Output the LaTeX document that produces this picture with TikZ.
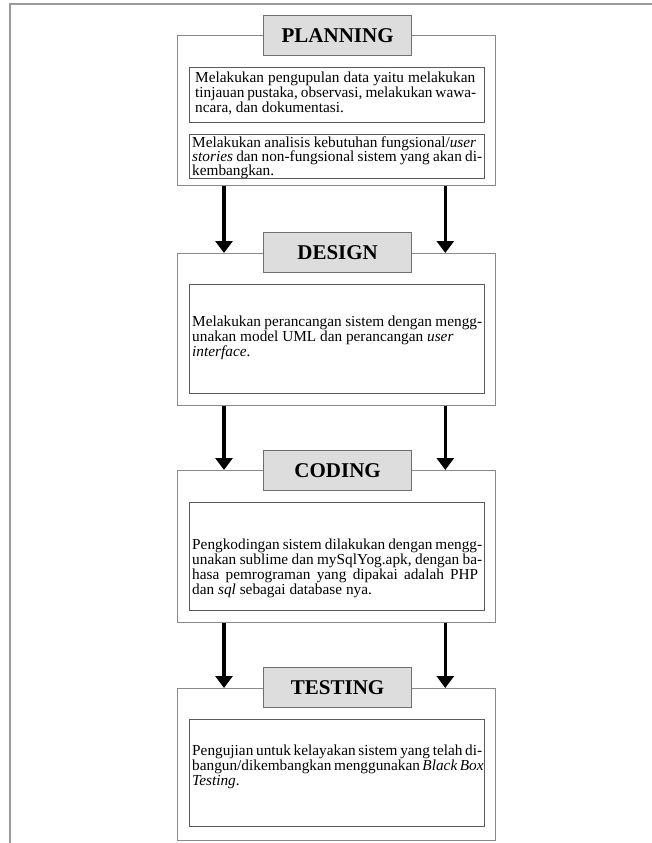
\documentclass[tikz,border=0pt]{standalone}
\usepackage{fontspec}
\setmainfont{Liberation Serif}
\usetikzlibrary{arrows.meta}
\definecolor{frameg}{HTML}{9A9A9A}
\definecolor{outerg}{HTML}{8A8A8A}
\definecolor{innerg}{HTML}{5A5A5A}
\definecolor{titlefill}{HTML}{DDDDDD}
\definecolor{titleline}{HTML}{707070}
\newcommand\jl[2]{\makebox[#1pt][s]{#2}\\}
\tikzset{
  outerbox/.style={draw=outerg, line width=1.3pt, fill=white, rectangle, inner sep=0pt, anchor=north west},
  innerbox/.style={draw=innerg, line width=1.1pt, rectangle, inner sep=0pt, anchor=north west},
  titlebox/.style={draw=titleline, line width=1.3pt, fill=titlefill, rectangle, inner sep=0pt,
    minimum width=148pt, minimum height=40pt, anchor=north west,
    font=\fontsize{21}{21}\selectfont\bfseries},
  txt/.style={inner sep=0pt, anchor=north west, align=left, font=\fontsize{15.3}{15}\selectfont},
  arr/.style={line width=3.6pt, -{Triangle[width=17pt,length=12pt]}},
  framel/.style={draw=frameg, line width=2pt}
}
\begin{document}
\begin{tikzpicture}[x=1pt,y=-1pt]
\useasboundingbox (0,0) rectangle (652,843);
% page frame
\coordinate (fa) at (10,843);
\coordinate (fb) at (10,4);
\coordinate (fc) at (652,4);
\draw[framel] (fa) -- (fb) -- (fc);

% PLANNING
\node[outerbox, minimum width=318pt, minimum height=150pt] (plan) at (177,35) {};
\node[titlebox] (plant) at (263,15) {PLANNING};
\node[innerbox, minimum width=295pt, minimum height=55pt] (p1) at (189,67) {};
\node[txt] (p1t) at (195,71.5) {\jl{280}{Melakukan pengupulan data yaitu melakukan}\jl{281}{tinjauan pustaka, observasi, melakukan wawa-}ncara, dan dokumentasi.};
\node[innerbox, minimum width=295pt, minimum height=44pt] (p2) at (189,134) {};
\node[txt, font=\fontsize{15.3}{14.2}\selectfont] (p2t) at (192,136.5) {\jl{284}{Melakukan analisis kebutuhan fungsional/\textit{user}}\jl{290}{\textit{stories} dan non-fungsional sistem yang akan di-}kembangkan.};

% DESIGN
\node[outerbox, minimum width=318pt, minimum height=152pt] (des) at (177,253) {};
\node[titlebox] (dest) at (263,232) {DESIGN};
\node[innerbox, minimum width=295pt, minimum height=109pt] (d1) at (189,284) {};
\node[txt] (d1t) at (192,316) {\jl{290}{Melakukan perancangan sistem dengan mengg-}unakan model UML dan perancangan \textit{user}\\\textit{interface}.};

% CODING
\node[outerbox, minimum width=318pt, minimum height=152pt] (cod) at (177,470) {};
\node[titlebox] (codt) at (263,450) {CODING};
\node[innerbox, minimum width=295pt, minimum height=108pt] (c1) at (189,502) {};
\node[txt] (c1t) at (192,539) {\jl{290}{Pengkodingan sistem dilakukan dengan mengg-}\jl{290}{unakan sublime dan mySqlYog.apk, dengan ba-}\jl{286}{hasa pemrograman yang dipakai adalah PHP}dan \textit{sql} sebagai database nya.};

% TESTING
\node[outerbox, minimum width=318pt, minimum height=152pt] (tes) at (177,688) {};
\node[titlebox] (test) at (263,667) {TESTING};
\node[innerbox, minimum width=295pt, minimum height=107pt] (t1) at (189,719) {};
\node[txt] (t1t) at (192,745) {\jl{290}{Pengujian untuk kelayakan sistem yang telah di-}\jl{290}{bangun/dikembangkan menggunakan \textit{Black Box}}\textit{Testing}.};

% arrows
\draw[arr] ([xshift=47pt]plan.south west) -- ([xshift=47pt]des.north west);
\draw[arr] ([xshift=-51pt]plan.south east) -- ([xshift=-51pt]des.north east);
\draw[arr] ([xshift=47pt]des.south west) -- ([xshift=47pt]cod.north west);
\draw[arr] ([xshift=-51pt]des.south east) -- ([xshift=-51pt]cod.north east);
\draw[arr] ([xshift=47pt]cod.south west) -- ([xshift=47pt]tes.north west);
\draw[arr] ([xshift=-51pt]cod.south east) -- ([xshift=-51pt]tes.north east);
\end{tikzpicture}
\end{document}
